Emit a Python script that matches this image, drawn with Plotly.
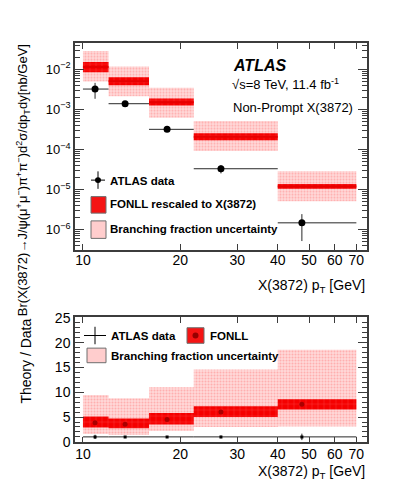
import numpy as np
import plotly.graph_objects as go

# pT bins [GeV]
bin_edges = [10, 12, 16, 22, 40, 70]

# ATLAS data (top panel)
data_x = [10.9, 13.5, 18.2, 26.7, 47.5]
data_y = [3.2e-3, 1.38e-3, 3.17e-4, 3.3e-5, 1.48e-6]
data_err = [1.37e-3, 1.4e-4, 3.0e-5, 7.7e-6, 9.6e-7]

# FONLL rescaled to X(3872)
fonll_c = [1.13e-2, 5.0e-3, 1.51e-3, 2.07e-4, 1.2e-5]
fonll_lo = [8.4e-3, 3.98e-3, 1.24e-3, 1.69e-4, 1.04e-5]
fonll_hi = [1.52e-2, 6.3e-3, 1.86e-3, 2.54e-4, 1.37e-5]
# branching fraction uncertainty
bf_lo = [4.97e-3, 2.11e-3, 6.2e-4, 9.15e-5, 5.13e-6]
bf_hi = [2.85e-2, 1.17e-2, 3.43e-3, 5.15e-4, 2.84e-5]

# Theory / Data (bottom panel)
ratio_c = [3.85, 3.57, 4.5, 6.0, 7.6]
ratio_lo = [2.87, 2.73, 3.5, 5.0, 6.5]
ratio_hi = [5.1, 4.7, 5.8, 7.2, 8.6]
ratio_bf_lo = [1.56, 1.4, 2.2, 3.0, 3.07]
ratio_bf_hi = [9.43, 8.8, 11.0, 14.6, 18.55]
data_ratio = [1, 1, 1, 1, 1]
data_ratio_err = [0.43, 0.1, 0.1, 0.25, 0.65]

x_ticks = [10, 20, 30, 40, 50, 60, 70]
y_decades = [1e-6, 1e-5, 1e-4, 1e-3, 1e-2]
y_decade_text = ["10<sup>\u22126</sup>", "10<sup>\u22125</sup>", "10<sup>\u22124</sup>",
                 "10<sup>\u22123</sup>", "10<sup>\u22122</sup>"]

FONT = "Liberation Sans, Arial, Helvetica, sans-serif"
W, H = 399, 487


def px(x):
    return x / W


def py(y):
    return 1 - y / H


def boxes(lo, hi):
    xs, ys = [], []
    for i in range(len(lo)):
        a, b = bin_edges[i], bin_edges[i + 1]
        xs += [a, b, b, a, a, None]
        ys += [lo[i], lo[i], hi[i], hi[i], lo[i], None]
    return xs, ys


def steps(vals):
    xs, ys = [], []
    for i, v in enumerate(vals):
        xs += [bin_edges[i], bin_edges[i + 1], None]
        ys += [v, v, None]
    return xs, ys


pink_pat = dict(shape=".", bgcolor="rgb(255,218,218)", fgcolor="rgb(255,130,130)",
                size=3, solidity=0.4)
red_pat = dict(shape="+", bgcolor="rgb(245,0,0)", fgcolor="rgb(255,140,140)",
               size=6, solidity=0.12)

xerr_plus = [bin_edges[i + 1] - x for i, x in enumerate(data_x)]
xerr_minus = [x - bin_edges[i] for i, x in enumerate(data_x)]

fig = go.Figure()

# top panel
bx, by = boxes(bf_lo, bf_hi)
fig.add_trace(go.Scatter(x=bx, y=by, fill="toself", mode="lines", line=dict(width=0),
                         fillpattern=pink_pat, xaxis="x", yaxis="y", hoverinfo="skip"))
bx, by = boxes(fonll_lo, fonll_hi)
fig.add_trace(go.Scatter(x=bx, y=by, fill="toself", mode="lines", line=dict(width=0),
                         fillpattern=red_pat, xaxis="x", yaxis="y", hoverinfo="skip"))
sx, sy = steps(fonll_c)
fig.add_trace(go.Scatter(x=sx, y=sy, mode="lines", line=dict(color="rgb(230,0,0)", width=2),
                         xaxis="x", yaxis="y", hoverinfo="skip"))
fig.add_trace(go.Scatter(
    x=data_x, y=data_y, mode="markers",
    marker=dict(color="black", size=7, symbol="circle"),
    error_x=dict(type="data", symmetric=False, array=xerr_plus, arrayminus=xerr_minus,
                 color="rgb(40,40,40)", thickness=1, width=0),
    error_y=dict(type="data", array=data_err, color="rgb(40,40,40)", thickness=1, width=0),
    xaxis="x", yaxis="y"))

# bottom panel
bx, by = boxes(ratio_bf_lo, ratio_bf_hi)
fig.add_trace(go.Scatter(x=bx, y=by, fill="toself", mode="lines", line=dict(width=0),
                         fillpattern=pink_pat, xaxis="x2", yaxis="y2", hoverinfo="skip"))
bx, by = boxes(ratio_lo, ratio_hi)
fig.add_trace(go.Scatter(x=bx, y=by, fill="toself", mode="lines", line=dict(width=0),
                         fillpattern=red_pat, xaxis="x2", yaxis="y2", hoverinfo="skip"))
fig.add_trace(go.Scatter(x=data_x, y=ratio_c, mode="markers",
                         marker=dict(color="rgb(170,0,0)", size=5),
                         xaxis="x2", yaxis="y2", hoverinfo="skip"))
fig.add_trace(go.Scatter(
    x=data_x, y=data_ratio, mode="markers",
    marker=dict(color="black", size=3, symbol="square"),
    error_x=dict(type="data", symmetric=False, array=xerr_plus, arrayminus=xerr_minus,
                 color="rgb(40,40,40)", thickness=1, width=0),
    error_y=dict(type="data", array=data_ratio_err, color="rgb(40,40,40)", thickness=1, width=0),
    xaxis="x2", yaxis="y2"))

minor_y = [m * d for d in [1e-7, 1e-6, 1e-5, 1e-4, 1e-3, 1e-2] for m in range(2, 10)]

xcommon = dict(type="log", range=[np.log10(9.45), np.log10(75.5)],
               domain=[px(67), px(359)], showline=True, linecolor="rgb(60,60,60)",
               linewidth=1.5, mirror="allticks", ticks="inside", ticklen=6,
               tickcolor="rgb(60,60,60)", tickvals=x_ticks, ticktext=[str(v) for v in x_ticks],
               tickfont=dict(size=14, family=FONT, color="black"), showgrid=False,
               zeroline=False)

fig.update_layout(
    width=W, height=H, margin=dict(l=0, r=0, t=0, b=0),
    paper_bgcolor="white", plot_bgcolor="white", showlegend=False,
    font=dict(family=FONT, color="black"),
    xaxis=dict(xcommon, anchor="y", ticklabelstandoff=-4),
    xaxis2=dict(xcommon, anchor="y2", ticklabelstandoff=-2),
    yaxis=dict(type="log", range=[-6.508, -1.351], domain=[py(242), py(29)],
               anchor="x", showline=True, linecolor="rgb(60,60,60)", linewidth=1.5,
               mirror="allticks", ticks="inside", ticklen=9, tickcolor="rgb(60,60,60)",
               tickvals=y_decades, ticktext=y_decade_text,
               tickfont=dict(size=13, family=FONT, color="black"),
               minor=dict(tickvals=minor_y, ticks="inside", ticklen=5,
                          tickcolor="rgb(60,60,60)", showgrid=False),
               showgrid=False, zeroline=False),
    yaxis2=dict(range=[-0.1, 25.15], domain=[py(440), py(311)], anchor="x2",
                showline=True, linecolor="rgb(60,60,60)", linewidth=1.5,
                mirror="allticks", ticks="inside", ticklen=9, tickcolor="rgb(60,60,60)",
                tickvals=[0, 5, 10, 15, 20, 25],
                tickfont=dict(size=14, family=FONT, color="black"),
                minor=dict(dtick=1, ticks="inside", ticklen=5, tickcolor="rgb(60,60,60)",
                           showgrid=False),
                showgrid=False, zeroline=False),
)

ann = []
# axis titles
ann.append(dict(text="Br(X(3872)\u2192J/\u03c8(\u03bc<sup>+</sup>\u03bc<sup>\u2212</sup>)"
                     "\u03c0<sup>+</sup>\u03c0<sup>\u2212</sup>)d<sup>2</sup>\u03c3/dp<sub>T</sub>dy[nb/GeV]",
                x=px(15), y=py(28), xanchor="center", yanchor="top", textangle=-90,
                font=dict(size=13)))
ann.append(dict(text="Theory / Data", x=px(18), y=py(311), xanchor="center", yanchor="top",
                textangle=-90, font=dict(size=14)))
ann.append(dict(text="X(3872) p<sub>T</sub> [GeV]", x=px(359), y=py(279), xanchor="right",
                yanchor="middle", font=dict(size=14)))
ann.append(dict(text="X(3872) p<sub>T</sub> [GeV]", x=px(359), y=py(471), xanchor="right",
                yanchor="middle", font=dict(size=14)))
# labels
ann.append(dict(text="<b><i>ATLAS</i></b>", x=px(223), y=py(52), xanchor="left",
                yanchor="middle", font=dict(size=16)))
ann.append(dict(text="\u221as=8 TeV, 11.4 fb<sup>-1</sup>", x=px(222), y=py(71),
                xanchor="left", yanchor="middle", font=dict(size=13)))
ann.append(dict(text="Non-Prompt X(3872)", x=px(223), y=py(95), xanchor="left",
                yanchor="middle", font=dict(size=13)))
# legend texts
for txt, xx, yy in [("ATLAS data", 100, 171), ("FONLL rescaled to X(3872)", 100, 195),
                    ("Branching fraction uncertainty", 100, 220),
                    ("ATLAS data", 101, 330), ("FONLL", 200, 330),
                    ("Branching fraction uncertainty", 101, 351)]:
    ann.append(dict(text="<b>" + txt + "</b>", x=px(xx), y=py(yy), xanchor="left",
                    yanchor="middle", font=dict(size=11.5)))
for a in ann:
    a.update(xref="paper", yref="paper", showarrow=False)
fig.update_layout(annotations=ann)

shapes = []
# legend symbols
for cx, cy, hw, hh in [(90, 170, 7, 9), (87, 330, 11, 9)]:
    shapes.append(dict(type="line", x0=px(cx - hw), x1=px(cx + hw), y0=py(cy), y1=py(cy),
                       line=dict(color="black", width=1)))
    shapes.append(dict(type="line", x0=px(cx), x1=px(cx), y0=py(cy - hh), y1=py(cy + hh),
                       line=dict(color="black", width=1)))
shapes.append(dict(type="circle", x0=px(87), x1=px(93), y0=py(167), y1=py(173),
                   fillcolor="black", line=dict(width=0)))
for x0, y0, x1, y1, col in [(83, 187, 98, 204, "rgb(245,20,20)"),
                            (83, 212, 98, 230, "rgb(255,205,205)"),
                            (179, 322, 196, 338, "rgb(245,20,20)"),
                            (79, 343, 98, 358, "rgb(255,205,205)")]:
    shapes.append(dict(type="rect", x0=px(x0), x1=px(x1), y0=py(y0), y1=py(y1),
                       fillcolor=col, line=dict(color="rgb(110,110,110)", width=1)))
shapes.append(dict(type="circle", x0=px(184.5), x1=px(190.5), y0=py(327), y1=py(333),
                   fillcolor="rgb(150,0,0)", line=dict(width=0)))
for s in shapes:
    s.update(xref="paper", yref="paper")
fig.update_layout(shapes=shapes)

fig.write_html("out.html")
